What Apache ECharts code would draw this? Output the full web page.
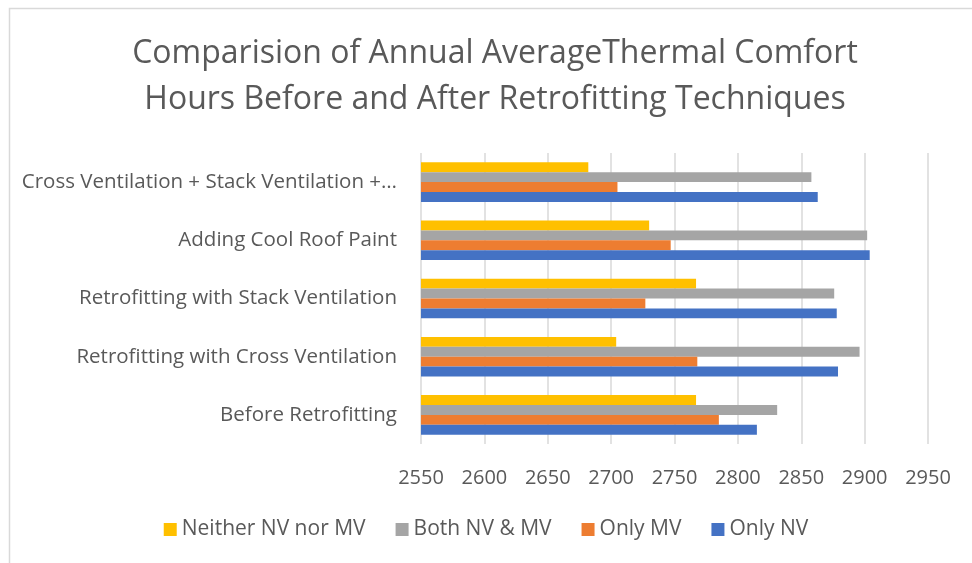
<!DOCTYPE html>
<html>
<head>
<meta charset="utf-8">
<script src="https://cdn.jsdelivr.net/npm/echarts@6/dist/echarts.min.js"></script>
<style>
  html, body { margin: 0; padding: 0; background: #fff; }
  #chart { width: 972px; height: 563px; }
</style>
</head>
<body>
<div id="chart"></div>
<script>
// categories, bottom to top
var categories = [
    'Before Retrofitting',
    'Retrofitting with Cross Ventilation',
    'Retrofitting with Stack Ventilation',
    'Adding Cool Roof Paint',
    'Cross Ventilation + Stack Ventilation +\u2026'
];
var onlyNV = [2815, 2879, 2878, 2904, 2863];
var onlyMV = [2785, 2768, 2727, 2747, 2705];
var bothNVMV = [2831, 2896, 2876, 2902, 2858];
var neitherNVMV = [2767, 2704, 2767, 2730, 2682];

var xMin = 2550, xMax = 2950, xStep = 50;
var txt = '#595959';
var font = 'Open Sans';

var chart = echarts.init(document.getElementById('chart'));

function bar(name, data, color) {
    return {
        name: name,
        type: 'bar',
        data: data,
        barGap: '0%',
        barCategoryGap: '32%',
        itemStyle: { color: color }
    };
}

var option = {
    backgroundColor: '#ffffff',
    animation: false,
    textStyle: { fontFamily: font },
    title: {
        text: 'Comparision of Annual AverageThermal Comfort\nHours Before and After Retrofitting Techniques',
        left: 490,
        textAlign: 'center',
        top: 26,
        textStyle: {
            fontFamily: font,
            fontSize: 32,
            fontWeight: 'normal',
            color: txt,
            lineHeight: 46
        }
    },
    legend: {
        data: ['Neither NV nor MV', 'Both NV & MV', 'Only MV', 'Only NV'],
        bottom: 18,
        left: 'center',
        itemWidth: 13,
        itemHeight: 13,
        itemGap: 30,
        icon: 'rect',
        textStyle: { fontFamily: font, fontSize: 21, color: txt }
    },
    grid: {
        left: 421,
        right: 44,
        top: 153,
        bottom: 119
    },
    xAxis: {
        type: 'value',
        min: xMin,
        max: xMax,
        interval: xStep,
        axisLine: { show: false },
        axisTick: { show: false },
        splitLine: { lineStyle: { color: '#d9d9d9', width: 1.5 } },
        axisLabel: {
            fontFamily: font, fontSize: 20, color: txt, margin: 24,
            formatter: function (v) { return String(v); }
        }
    },
    yAxis: {
        type: 'category',
        data: categories,
        axisLine: { show: false },
        axisTick: { show: false },
        axisLabel: { fontFamily: font, fontSize: 20.5, color: txt, margin: 24 }
    },
    // top to bottom inside each category: yellow, gray, orange, blue
    series: [
        bar('Neither NV nor MV', neitherNVMV, '#FFC000'),
        bar('Both NV & MV', bothNVMV, '#A5A5A5'),
        bar('Only MV', onlyMV, '#ED7D31'),
        bar('Only NV', onlyNV, '#4472C4')
    ],
    graphic: [{
        type: 'rect',
        shape: { x: 9.5, y: 8.5, width: 1000, height: 600 },
        style: { fill: 'none', stroke: '#d9d9d9', lineWidth: 1.5 },
        silent: true
    }]
};

chart.setOption(option);
</script>
</body>
</html>
